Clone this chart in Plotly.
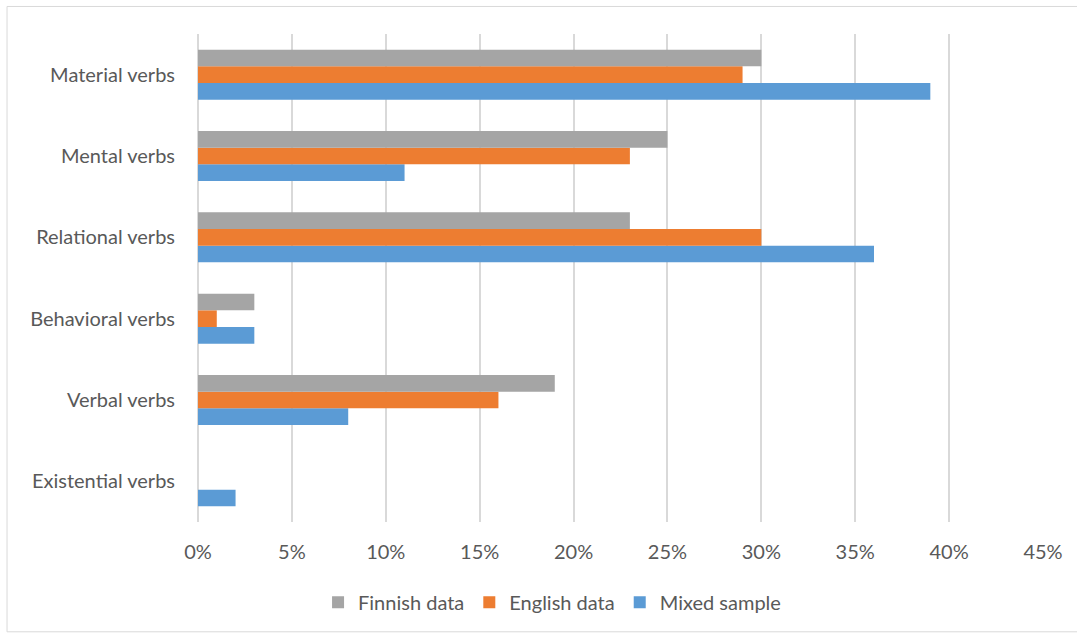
import plotly.graph_objects as go

categories = ["Material verbs", "Mental verbs", "Relational verbs",
              "Behavioral verbs", "Verbal verbs", "Existential verbs"]
finnish = [30, 25, 23, 3, 19, 0]
english = [29, 23, 30, 1, 16, 0]
mixed = [39, 11, 36, 3, 8, 2]
tick_vals = [0, 5, 10, 15, 20, 25, 30, 35, 40, 45]
tick_text = [f"{v}%" for v in tick_vals]

font_family = "Lato, 'Open Sans', sans-serif"
text_color = "#595959"

fig = go.Figure()
fig.add_trace(go.Bar(y=categories, x=mixed, name="Mixed sample", orientation="h",
                     marker=dict(color="#5B9BD5", line=dict(width=0))))
fig.add_trace(go.Bar(y=categories, x=english, name="English data", orientation="h",
                     marker=dict(color="#ED7D31", line=dict(width=0))))
fig.add_trace(go.Bar(y=categories, x=finnish, name="Finnish data", orientation="h",
                     marker=dict(color="#A5A5A5", line=dict(width=0))))

fig.update_layout(
    width=1077, height=633,
    margin=dict(l=198, r=34, t=34, b=110),
    paper_bgcolor="white", plot_bgcolor="white",
    barmode="group", bargap=0.385, bargroupgap=0,
    font=dict(family=font_family, size=20, color=text_color),
    legend=dict(orientation="h", traceorder="reversed", x=0.419, xanchor="center",
                y=-0.162, yanchor="middle", font=dict(size=20, color=text_color),
                itemwidth=30, tracegroupgap=0),
    showlegend=True,
    xaxis=dict(range=[0, 45], tickvals=tick_vals, ticktext=tick_text,
               showgrid=True, gridcolor="#D9D9D9", gridwidth=1.5,
               zeroline=True, zerolinecolor="#D9D9D9", zerolinewidth=1.5,
               showline=False, ticklabelstandoff=16,
               tickfont=dict(size=20, color=text_color)),
    yaxis=dict(categoryorder="array", categoryarray=categories[::-1],
               showgrid=False, showline=False, zeroline=False,
               ticklabelstandoff=22, tickfont=dict(size=20, color=text_color)),
    shapes=[dict(type="rect", xref="paper", yref="paper",
                 x0=-0.226, x1=1.05, y0=-0.225, y1=1.0564,
                 line=dict(color="#D9D9D9", width=1), fillcolor="rgba(0,0,0,0)",
                 layer="below")],
)

fig.write_html("out.html")
